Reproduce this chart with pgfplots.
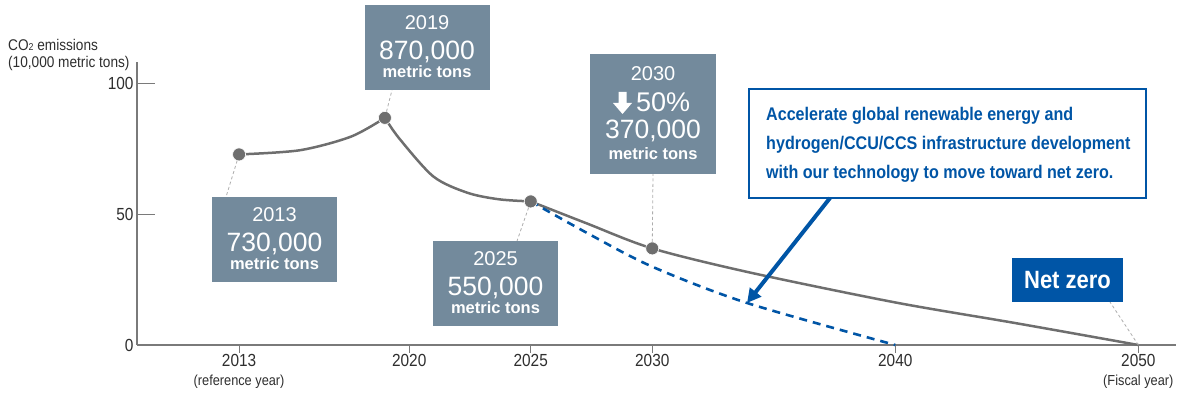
\documentclass[border=0pt]{standalone}
\usepackage{pgfplots}
\pgfplotsset{compat=1.18}
\usepackage{fontspec}
\setmainfont{Liberation Sans}
\newfontfamily\narrow[FakeStretch=0.88]{Liberation Sans}
\usetikzlibrary{arrows.meta}
\definecolor{boxc}{HTML}{738A9C}
\definecolor{blu}{HTML}{0055A6}
\definecolor{linec}{HTML}{6E6E6E}
\definecolor{axc}{HTML}{7A7A7A}
\definecolor{txt}{HTML}{2E2E2E}
\definecolor{lead}{HTML}{ADADAD}
\newcommand\fs[1]{\fontsize{#1}{#1}\selectfont}
% cx, top, year, value
\newcommand\ybox[4]{%
  \fill[boxc] (#1-62.5,#2) rectangle (#1+62.5,#2-85);
  \node[anchor=base,text=white,font=\fs{20},inner sep=0] at (#1,#2-25) {#3};
  \node[anchor=base,text=white,font=\fs{26.5},inner sep=0] at (#1,#2-55) {#4};
  \node[anchor=base,text=white,font=\bfseries\fs{16.5},inner sep=0] at (#1,#2-73) {metric tons};
}
\begin{document}
\begin{tikzpicture}
\begin{axis}[
  at={(137pt,51pt)}, anchor=south west,
  scale only axis, width=1039pt, height=283pt,
  xmin=2008.8, xmax=2051.55, ymin=0, ymax=108.4,
  axis lines=left,
  axis line style={-, draw=axc, line width=1.1pt},
  tick align=inside, major tick length=18pt,
  tick style={draw=axc, line width=1pt},
  xtick style={draw=none},
  xtick={2013,2020,2025,2030,2040,2050},
  xticklabels={{2013\\[1pt]{\fs{14.5}(reference year)}}, 2020, 2025, 2030, 2040, {2050\\[1pt]{\fs{14.5}(Fiscal year)}}},
  xticklabel style={font=\narrow\fs{17.5}, text=txt, align=center, yshift=-6pt},
  ytick={0,50,100}, yticklabels={0,50,100},
  yticklabel style={font=\narrow\fs{17.5}, text=txt},
  clip=false,
]
\pgfplotsinvokeforeach{2013,2020,2025,2030,2040,2050}{\draw[axc, line width=1pt] (axis cs:#1,0) -- ++(0pt,-8pt);}
\addplot[linec, line width=2.5pt, smooth] coordinates {(2013,73) (2015.5,74.6) (2017.6,79.8) (2019,87)};
\addplot[linec, line width=2.5pt, smooth] coordinates {(2019,87) (2019.6,79) (2021,64.5) (2022.4,58.3) (2023.7,55.8) (2025,55)};
\addplot[linec, line width=2.5pt, smooth] coordinates {(2025,55) (2027.3,46.6) (2030,37) (2034,27.8) (2040,16.3) (2045,8.3) (2050,0)};
\addplot[blu, line width=2.6pt, dash pattern=on 8pt off 6pt, smooth] coordinates {(2025,55) (2027.3,43) (2030,30) (2033.9,16.1) (2040,0)};
\addplot[only marks, mark=*, mark size=6.5pt, mark options={fill=linec, draw=white, line width=0.6pt}] coordinates {(2013,73) (2019,87) (2025,55) (2030,37)};
\coordinate (d13) at (axis cs:2013,73);
\coordinate (d19) at (axis cs:2019,87);
\coordinate (d25) at (axis cs:2025,55);
\coordinate (d30) at (axis cs:2030,37);
\coordinate (d50) at (axis cs:2050,0);
\end{axis}
\begin{scope}[x=1pt,y=1pt]
% leaders
\draw[lead, line width=0.8pt, dash pattern=on 3pt off 2.5pt, shorten <=6.5pt] (d13) -- (226,199);
\draw[lead, line width=0.8pt, dash pattern=on 3pt off 2.5pt, shorten <=6.5pt] (d19) -- (392,306);
\draw[lead, line width=0.8pt, dash pattern=on 3pt off 2.5pt, shorten <=6.5pt] (d25) -- (517,155);
\draw[lead, line width=0.8pt, dash pattern=on 3pt off 2.5pt, shorten <=6.5pt] (d30) -- (653,222);
\draw[lead, line width=0.8pt, dash pattern=on 3pt off 2.5pt] (d50) -- (1110,94);
% y title
\node[anchor=base west, font=\narrow\fs{15.5}, text=txt, inner sep=0] at (8,345) {CO{\fs{10}2} emissions};
\node[anchor=base west, font=\narrow\fs{15.5}, text=txt, inner sep=0] at (8,328) {(10,000 metric tons)};
% boxes
\ybox{274.5}{199}{2013}{730,000}
\ybox{427}{391}{2019}{870,000}
\ybox{495.5}{155}{2025}{550,000}
% 2030 box
\fill[boxc] (590,342) rectangle (716,222);
\node[anchor=base,text=white,font=\fs{20},inner sep=0] at (653,315) {2030};
\fill[white] (618.5,304) -- (626.5,304) -- (626.5,293) -- (632,293) -- (622.5,282) -- (613,293) -- (618.5,293) -- cycle;
\node[anchor=base west,text=white,font=\fs{27},inner sep=0] at (636,284) {50\%};
\node[anchor=base,text=white,font=\fs{26.5},inner sep=0] at (653,257) {370,000};
\node[anchor=base,text=white,font=\bfseries\fs{16.5},inner sep=0] at (653,236) {metric tons};
% blue text box
\draw[blu, line width=1.6pt, fill=white] (749,307) rectangle (1146,198);
\begin{scope}[every node/.style={anchor=base west, text=blu, font=\narrow\bfseries\fs{18.3}, inner sep=0}]
\node at (766,275) {Accelerate global renewable energy and};
\node at (766,246) {hydrogen/CCU/CCS infrastructure development};
\node at (766,217) {with our technology to move toward net zero.};
\end{scope}
\draw[blu, line width=4pt, -{Triangle[length=14pt, width=14pt]}] (830,198) -- (747,93);
% net zero
\fill[blu] (1012,138) rectangle (1123,94);
\node[anchor=base,text=white,font=\narrow\bfseries\fs{25},inner sep=0] at (1067.5,107) {Net zero};
\pgfresetboundingbox
\useasboundingbox (0,0) rectangle (1177,396);
\end{scope}
\end{tikzpicture}
\end{document}
